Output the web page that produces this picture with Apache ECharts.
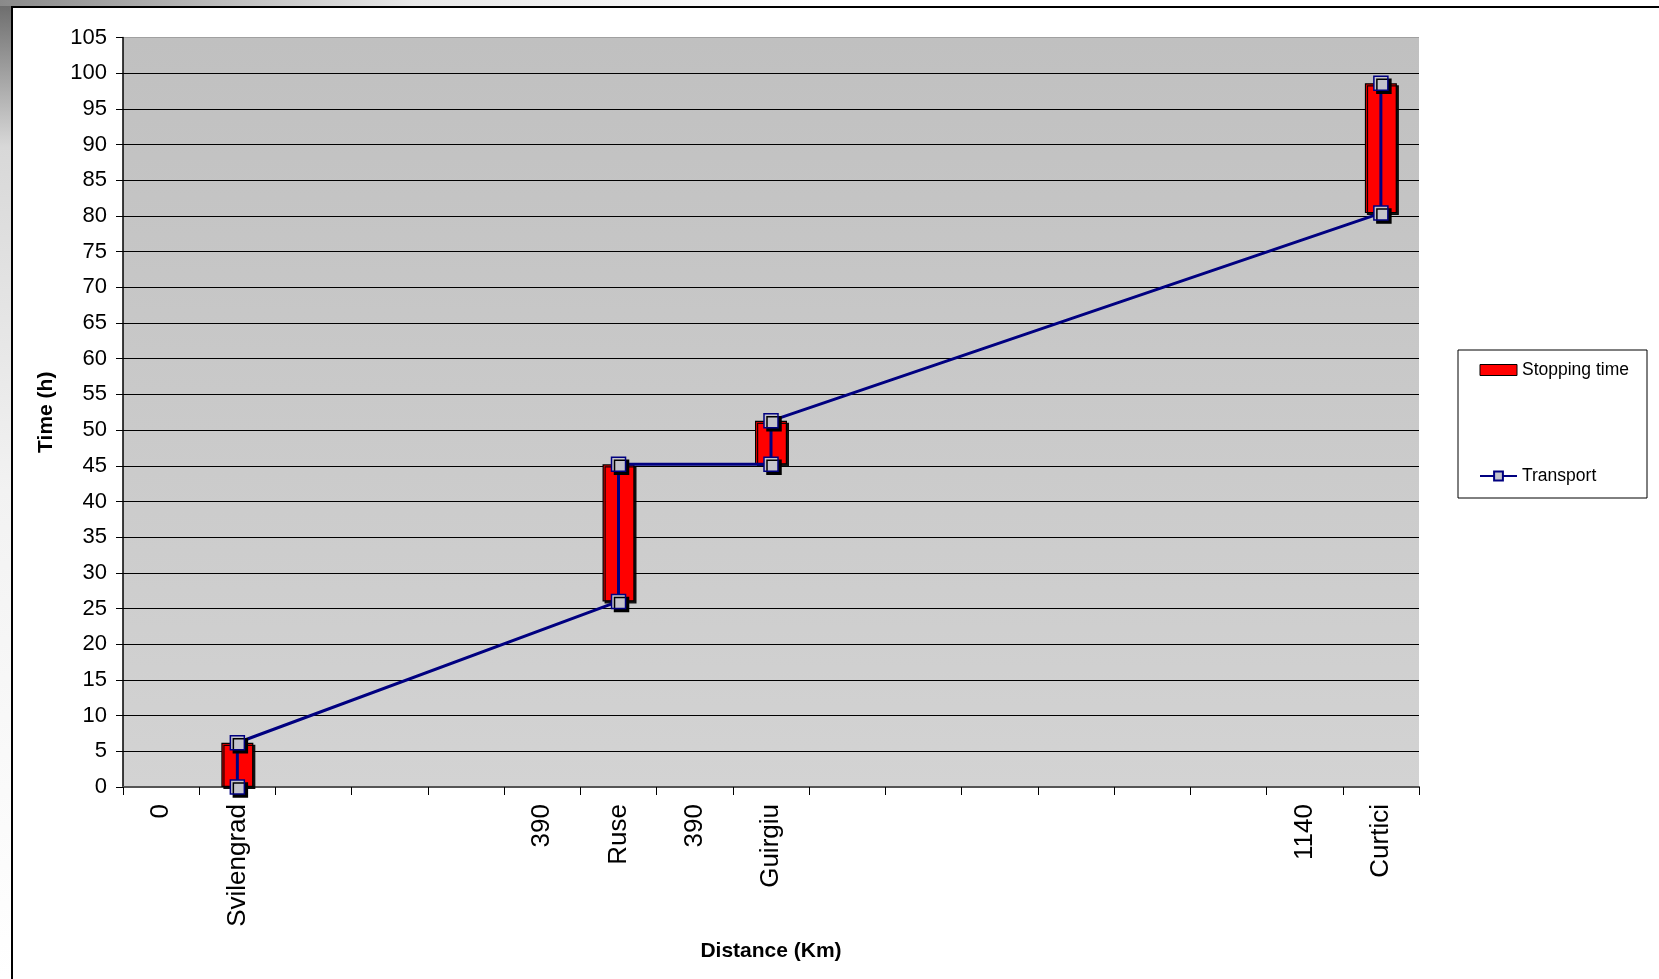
<!DOCTYPE html>
<html>
<head>
<meta charset="utf-8">
<title>Stopping time and transport</title>
<script src="https://cdn.jsdelivr.net/npm/echarts@6/dist/echarts.min.js"></script>
<style>
  html, body { margin: 0; padding: 0; background: #ffffff; }
  #chart { width: 1659px; height: 979px; }
</style>
</head>
<body>
<div id="chart"></div>
<script>
// Route positions along the distance axis (blank slots keep the spacing)
const categories = ['0', 'Svilengrad', '', '', '', '390', 'Ruse', '390', 'Guirgiu',
  '', '', '', '', '', '', '1140', 'Curtici'];

// Stations where the train stops, with arrival and departure time (h)
const stopStations = ['Svilengrad', 'Ruse', 'Guirgiu', 'Curtici'];
const arrivalTime = [0, 26.0, 45.2, 80.4];
const departureTime = [6.2, 45.2, 51.3, 98.6];

// Y axis ticks
const yMin = 0, yMax = 105, yStep = 5;

// Floating bars: transparent base up to the arrival, visible part for the stop
const baseData = categories.map(() => null);
const stopData = categories.map(() => null);
stopStations.forEach((s, i) => {
  const idx = categories.indexOf(s);
  baseData[idx] = arrivalTime[i];
  stopData[idx] = +(departureTime[i] - arrivalTime[i]).toFixed(2);
});

// Transport line: arrival then departure at each stop, in travel order
const transportData = [];
stopStations.forEach((s, i) => {
  const idx = categories.indexOf(s);
  transportData.push([idx, arrivalTime[i]]);
  transportData.push([idx, departureTime[i]]);
});

// One split line per tick; the top edge is drawn lighter
const nLines = Math.round((yMax - yMin) / yStep) + 1;
const splitColors = [];
for (let i = 0; i < nLines; i++) splitColors.push(i === nLines - 1 ? '#a0a0a0' : '#000000');

const chart = echarts.init(document.getElementById('chart'), null, { renderer: 'canvas' });

const FONT = 'Liberation Sans, Arial, sans-serif';

chart.setOption({
  backgroundColor: '#ffffff',
  animation: false,
  textStyle: { fontFamily: FONT },
  graphic: [
    {
      type: 'rect', left: 0, top: 0, z: -10,
      shape: { width: 11, height: 979 },
      style: {
        fill: {
          type: 'linear', x: 0, y: 0, x2: 0, y2: 1,
          colorStops: [
            { offset: 0, color: '#6a6a6a' },
            { offset: 0.15, color: '#d8d8d8' },
            { offset: 0.5, color: '#f2f2f2' },
            { offset: 1, color: '#ffffff' }
          ]
        }
      }
    },
    {
      type: 'rect', left: 0, top: 0, z: -10,
      shape: { width: 1659, height: 6 },
      style: {
        fill: {
          type: 'linear', x: 0, y: 0, x2: 1, y2: 0,
          colorStops: [
            { offset: 0, color: '#8a8a8a' },
            { offset: 0.25, color: '#e8e8e8' },
            { offset: 0.5, color: '#ffffff' },
            { offset: 1, color: '#ffffff' }
          ]
        }
      }
    },
    {
      type: 'polyline', z: 10,
      shape: { points: [[12, 979], [12, 7], [1659, 7]] },
      style: { stroke: '#000000', lineWidth: 2, fill: null }
    }
  ],
  grid: {
    left: 123, right: 240, top: 37.5, bottom: 192,
    show: true,
    borderWidth: 0,
    backgroundColor: {
      type: 'linear', x: 0, y: 0, x2: 0, y2: 1,
      colorStops: [
        { offset: 0, color: '#c0c0c0' },
        { offset: 1, color: '#d3d3d3' }
      ]
    }
  },
  legend: {
    orient: 'vertical',
    left: 1458, top: 350,
    padding: [11, 18, 13, 21],
    itemGap: 88,
    itemWidth: 37, itemHeight: 11,
    borderColor: '#000000', borderWidth: 1,
    backgroundColor: '#ffffff',
    textStyle: { fontFamily: FONT, fontSize: 17.5, color: '#000000' },
    data: [
      { name: 'Stopping time', icon: 'rect', itemStyle: { color: '#ff0000', borderColor: '#000000', borderWidth: 1, shadowBlur: 0, shadowOffsetX: 0, shadowOffsetY: 0 } },
      { name: 'Transport' }
    ]
  },
  xAxis: {
    type: 'category',
    data: categories,
    boundaryGap: true,
    name: 'Distance (Km)',
    nameLocation: 'middle',
    nameGap: 154,
    nameTextStyle: { fontFamily: FONT, fontSize: 21, fontWeight: 'bold', color: '#000000' },
    axisLine: { show: true, lineStyle: { color: '#555555', width: 2 } },
    axisTick: { show: true, interval: 0, length: 8, lineStyle: { color: '#000000', width: 1 } },
    axisLabel: {
      interval: 0, rotate: 90, margin: 17,
      fontFamily: FONT, fontSize: 26, color: '#000000'
    },
    splitLine: { show: false }
  },
  yAxis: {
    type: 'value',
    min: yMin, max: yMax, interval: yStep,
    name: 'Time (h)',
    nameLocation: 'middle',
    nameRotate: 90,
    nameGap: 66,
    nameTextStyle: { fontFamily: FONT, fontSize: 21, fontWeight: 'bold', color: '#000000' },
    axisLine: { show: true, lineStyle: { color: '#000000', width: 1.5 } },
    axisTick: { show: true, length: 7, lineStyle: { color: '#000000' } },
    axisLabel: { margin: 16, fontFamily: FONT, fontSize: 22, color: '#000000' },
    splitLine: { show: true, lineStyle: { color: splitColors, width: 1.2 } }
  },
  series: [
    {
      name: 'base',
      type: 'bar',
      stack: 'stop',
      data: baseData,
      barWidth: 32,
      itemStyle: { color: 'rgba(0,0,0,0)' },
      emphasis: { disabled: true },
      silent: true,
      z: 2
    },
    {
      name: 'Stopping time',
      type: 'bar',
      stack: 'stop',
      data: stopData,
      barWidth: 32,
      itemStyle: {
        color: '#ff0000',
        borderColor: '#000000',
        borderWidth: 1.2,
        shadowColor: 'rgba(0,0,0,0.9)',
        shadowBlur: 0,
        shadowOffsetX: 2,
        shadowOffsetY: 2
      },
      z: 2
    },
    {
      name: 'Transport',
      type: 'line',
      data: transportData,
      symbol: 'rect',
      symbolSize: 14,
      z: 5,
      lineStyle: { color: '#000080', width: 3 },
      itemStyle: {
        color: '#c4c4cc',
        borderColor: '#000080',
        borderWidth: 1.5,
        shadowColor: '#000000',
        shadowBlur: 0,
        shadowOffsetX: 3,
        shadowOffsetY: 3
      }
    }
  ]
});
</script>
</body>
</html>
